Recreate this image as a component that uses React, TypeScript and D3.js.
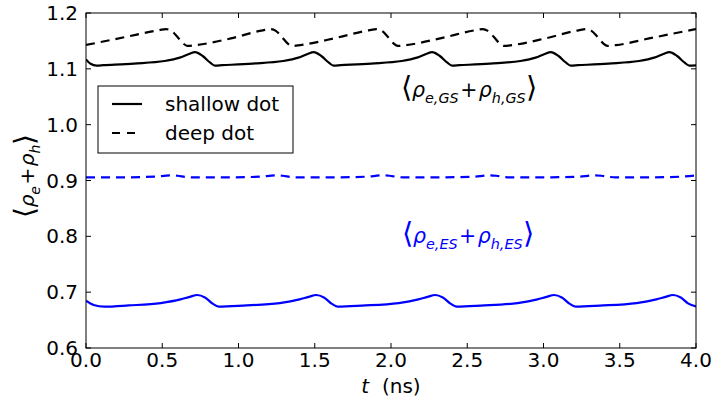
import React from 'react';
import * as d3 from 'd3';

const W = 715;
const H = 405;
const margin = { left: 86, right: 19, top: 13, bottom: 57 };

const xTicks = [0, 0.5, 1, 1.5, 2, 2.5, 3, 3.5, 4];
const yTicks = [0.6, 0.7, 0.8, 0.9, 1.0, 1.1, 1.2];

// Ground-state occupation, shallow dot: [t (ns), <rho_e + rho_h>]
const shallowGS: [number, number][] = [
  [0.0, 1.117], [0.03, 1.109], [0.07, 1.1058], [0.115, 1.1065], [0.315, 1.1095],
  [0.515, 1.114], [0.615, 1.12], [0.675, 1.1265], [0.715, 1.13], [0.765, 1.123],
  [0.815, 1.111], [0.845, 1.1058], [0.893, 1.1065], [1.093, 1.1095], [1.293, 1.114],
  [1.393, 1.12], [1.453, 1.1265], [1.493, 1.13], [1.543, 1.123], [1.593, 1.111],
  [1.623, 1.1058], [1.67, 1.1065], [1.87, 1.1095], [2.07, 1.114], [2.17, 1.12],
  [2.23, 1.1265], [2.27, 1.13], [2.32, 1.123], [2.37, 1.111], [2.4, 1.1058],
  [2.448, 1.1065], [2.648, 1.1095], [2.848, 1.114], [2.948, 1.12], [3.008, 1.1265],
  [3.048, 1.13], [3.098, 1.123], [3.148, 1.111], [3.178, 1.1058], [3.226, 1.1065],
  [3.426, 1.1095], [3.626, 1.114], [3.726, 1.12], [3.786, 1.1265], [3.826, 1.13],
  [3.876, 1.123], [3.926, 1.111], [3.956, 1.1058], [4.0, 1.1062],
];

// Ground-state occupation, deep dot
const deepGS: [number, number][] = [
  [0.0, 1.1427], [0.25, 1.1565], [0.47, 1.1688], [0.525, 1.171], [0.56, 1.168],
  [0.6, 1.157], [0.635, 1.146], [0.665, 1.141], [0.72, 1.1425], [0.95, 1.1545],
  [1.16, 1.169], [1.21, 1.171], [1.245, 1.168], [1.285, 1.157], [1.32, 1.146],
  [1.35, 1.141], [1.405, 1.1425], [1.64, 1.1555], [1.855, 1.169], [1.905, 1.171],
  [1.94, 1.168], [1.98, 1.157], [2.015, 1.146], [2.045, 1.141], [2.1, 1.1425],
  [2.33, 1.155], [2.55, 1.169], [2.6, 1.171], [2.635, 1.168], [2.675, 1.157],
  [2.71, 1.146], [2.74, 1.141], [2.795, 1.1425], [3.02, 1.155], [3.23, 1.169],
  [3.28, 1.171], [3.315, 1.168], [3.355, 1.157], [3.39, 1.146], [3.42, 1.141],
  [3.475, 1.1425], [3.72, 1.156], [4.0, 1.1712],
];

// Excited-state occupation, shallow dot
const shallowES: [number, number][] = [
  [0.0, 0.6847], [0.05, 0.677], [0.12, 0.674], [0.28, 0.6762], [0.49, 0.6805],
  [0.62, 0.687], [0.68, 0.6915], [0.73, 0.6949], [0.78, 0.6905], [0.83, 0.6795],
  [0.87, 0.6742], [1.03, 0.676], [1.27, 0.6805], [1.4, 0.687], [1.46, 0.6915],
  [1.51, 0.6949], [1.56, 0.6905], [1.61, 0.6795], [1.65, 0.6742], [1.81, 0.676],
  [2.05, 0.6805], [2.18, 0.687], [2.24, 0.6915], [2.29, 0.6949], [2.34, 0.6905],
  [2.39, 0.6795], [2.43, 0.6742], [2.59, 0.676], [2.83, 0.6805], [2.96, 0.687],
  [3.02, 0.6915], [3.07, 0.6949], [3.12, 0.6905], [3.17, 0.6795], [3.21, 0.6742],
  [3.37, 0.676], [3.61, 0.6805], [3.74, 0.687], [3.8, 0.6915], [3.85, 0.6949],
  [3.9, 0.6905], [3.95, 0.6795], [4.0, 0.6745],
];

// Excited-state occupation, deep dot
const deepES: [number, number][] = [
  [0.0, 0.9057], [0.2, 0.9056], [0.45, 0.9068], [0.55, 0.9092], [0.6, 0.9085],
  [0.65, 0.9065], [0.69, 0.9055], [0.9, 0.9056], [1.14, 0.9068], [1.24, 0.9092],
  [1.29, 0.9085], [1.34, 0.9065], [1.38, 0.9055], [1.6, 0.9056], [1.84, 0.9068],
  [1.94, 0.9092], [1.99, 0.9085], [2.04, 0.9065], [2.08, 0.9055], [2.3, 0.9056],
  [2.54, 0.9068], [2.64, 0.9092], [2.69, 0.9085], [2.74, 0.9065], [2.78, 0.9055],
  [3.0, 0.9056], [3.23, 0.9068], [3.33, 0.9092], [3.38, 0.9085], [3.43, 0.9065],
  [3.47, 0.9055], [3.7, 0.9056], [3.9, 0.9068], [4.0, 0.909],
];

const legendLabels = ['shallow dot', 'deep dot'];

type Seg = { t: string; it?: boolean; sub?: boolean; br?: boolean; dx?: number };

const gsLabel: Seg[] = [
  { t: '\u27E8', br: true }, { t: 'ρ', it: true }, { t: 'e,GS', it: true, sub: true },
  { t: '+', dx: 1.5 }, { t: 'ρ', it: true, dx: 1.5 }, { t: 'h,GS', it: true, sub: true },
  { t: '\u27E9', br: true },
];
const esLabel: Seg[] = [
  { t: '\u27E8', br: true }, { t: 'ρ', it: true }, { t: 'e,ES', it: true, sub: true },
  { t: '+', dx: 1.5 }, { t: 'ρ', it: true, dx: 1.5 }, { t: 'h,ES', it: true, sub: true },
  { t: '\u27E9', br: true },
];
const yLabel: Seg[] = [
  { t: '\u27E8', br: true }, { t: 'ρ', it: true }, { t: 'e', it: true, sub: true },
  { t: '+', dx: 1.5 }, { t: 'ρ', it: true, dx: 1.5 }, { t: 'h', it: true, sub: true },
  { t: '\u27E9', br: true },
];

const FONT = "'DejaVu Sans', sans-serif";

function MathText(props: {
  x: number; y: number; segs: Seg[]; size: number; color?: string;
  anchor?: string; transform?: string;
}) {
  const { x, y, segs, size, color = '#000', anchor = 'start', transform } = props;
  let shift = 0;
  const spans = segs.map((s, i) => {
    const target = s.sub ? size * 0.3 : 0;
    const dy = target - shift;
    shift = target;
    const fs = s.sub ? size * 0.7 : s.br ? size * 1.4 : size;
    return (
      <tspan
        key={i}
        dy={dy}
        dx={s.dx}
        style={{
          fontStyle: s.it ? 'italic' : 'normal',
          fontSize: fs,
          fontFamily: FONT,
          fontWeight: s.br ? 200 : 400,
        }}
      >
        {s.t}
      </tspan>
    );
  });
  return (
    <text x={x} y={y} fill={color} textAnchor={anchor} transform={transform} style={{ fontFamily: FONT, fontSize: size }}>
      {spans}
    </text>
  );
}

export default function App() {
  const x = d3.scaleLinear().domain([0, 4]).range([margin.left, W - margin.right]);
  const y = d3.scaleLinear().domain([0.6, 1.2]).range([H - margin.bottom, margin.top]);

  const line = d3
    .line<[number, number]>()
    .x((d) => x(d[0]))
    .y((d) => y(d[1]))
    .curve(d3.curveMonotoneX);

  const series = [
    { data: shallowGS, color: '#000000', dash: undefined },
    { data: deepGS, color: '#000000', dash: '9,6' },
    { data: shallowES, color: '#0000ff', dash: undefined },
    { data: deepES, color: '#0000ff', dash: '9,6' },
  ];

  const x0 = x.range()[0];
  const x1 = x.range()[1];
  const yb = y.range()[0];
  const yt = y.range()[1];
  const tickLen = 5;
  const fs = 20;
  const textStyle = { fontFamily: FONT, fontSize: fs };

  const fmt = d3.format('.1f');

  return (
    <svg width={W} height={H} style={{ position: 'absolute', left: 0, top: 0, background: '#fff' }}>
      <rect x={0} y={0} width={W} height={H} fill="#fff" />
      <defs>
        <clipPath id="plot-clip">
          <rect x={x0} y={yt} width={x1 - x0} height={yb - yt} />
        </clipPath>
      </defs>

      <g clipPath="url(#plot-clip)">
        {series.map((s, i) => (
          <path
            key={i}
            d={line(s.data) || ''}
            fill="none"
            stroke={s.color}
            strokeWidth={2.2}
            strokeDasharray={s.dash}
            strokeLinejoin="round"
          />
        ))}
      </g>

      {/* ticks on all four sides, pointing inward */}
      {xTicks.map((t) => (
        <g key={'xt' + t}>
          <line x1={x(t)} x2={x(t)} y1={yb} y2={yb - tickLen} stroke="#000" />
          <line x1={x(t)} x2={x(t)} y1={yt} y2={yt + tickLen} stroke="#000" />
          <text x={x(t)} y={yb + 19} textAnchor="middle" style={textStyle}>
            {fmt(t)}
          </text>
        </g>
      ))}
      {yTicks.map((t) => (
        <g key={'yt' + t}>
          <line x1={x0} x2={x0 + tickLen} y1={y(t)} y2={y(t)} stroke="#000" />
          <line x1={x1} x2={x1 - tickLen} y1={y(t)} y2={y(t)} stroke="#000" />
          <text x={x0 - 8} y={y(t) + 7} textAnchor="end" style={textStyle}>
            {fmt(t)}
          </text>
        </g>
      ))}

      <rect x={x0} y={yt} width={x1 - x0} height={yb - yt} fill="none" stroke="#000" strokeWidth={1} />

      {/* legend */}
      <g>
        <rect x={98} y={86} width={195} height={67} fill="#fff" stroke="#000" strokeWidth={1} />
        {legendLabels.map((lab, i) => (
          <g key={lab}>
            <line
              x1={112}
              x2={142}
              y1={104 + i * 29}
              y2={104 + i * 29}
              stroke="#000"
              strokeWidth={2.2}
              strokeDasharray={i === 1 ? '8,7' : undefined}
            />
            <text x={165} y={111 + i * 29} style={textStyle}>
              {lab}
            </text>
          </g>
        ))}
      </g>

      <MathText x={401} y={97} segs={gsLabel} size={20.5} />
      <MathText x={402} y={243} segs={esLabel} size={20.5} color="#0000ff" />

      {/* axis labels */}
      <text x={(x0 + x1) / 2} y={393} textAnchor="middle" style={textStyle}>
        <tspan style={{ fontStyle: 'italic' }}>t</tspan>
        <tspan>{'\u00A0\u00A0(ns)'}</tspan>
      </text>
      <MathText x={0} y={0} segs={yLabel} size={20} anchor="middle" transform="translate(34,176) rotate(-90)" />
    </svg>
  );
}
